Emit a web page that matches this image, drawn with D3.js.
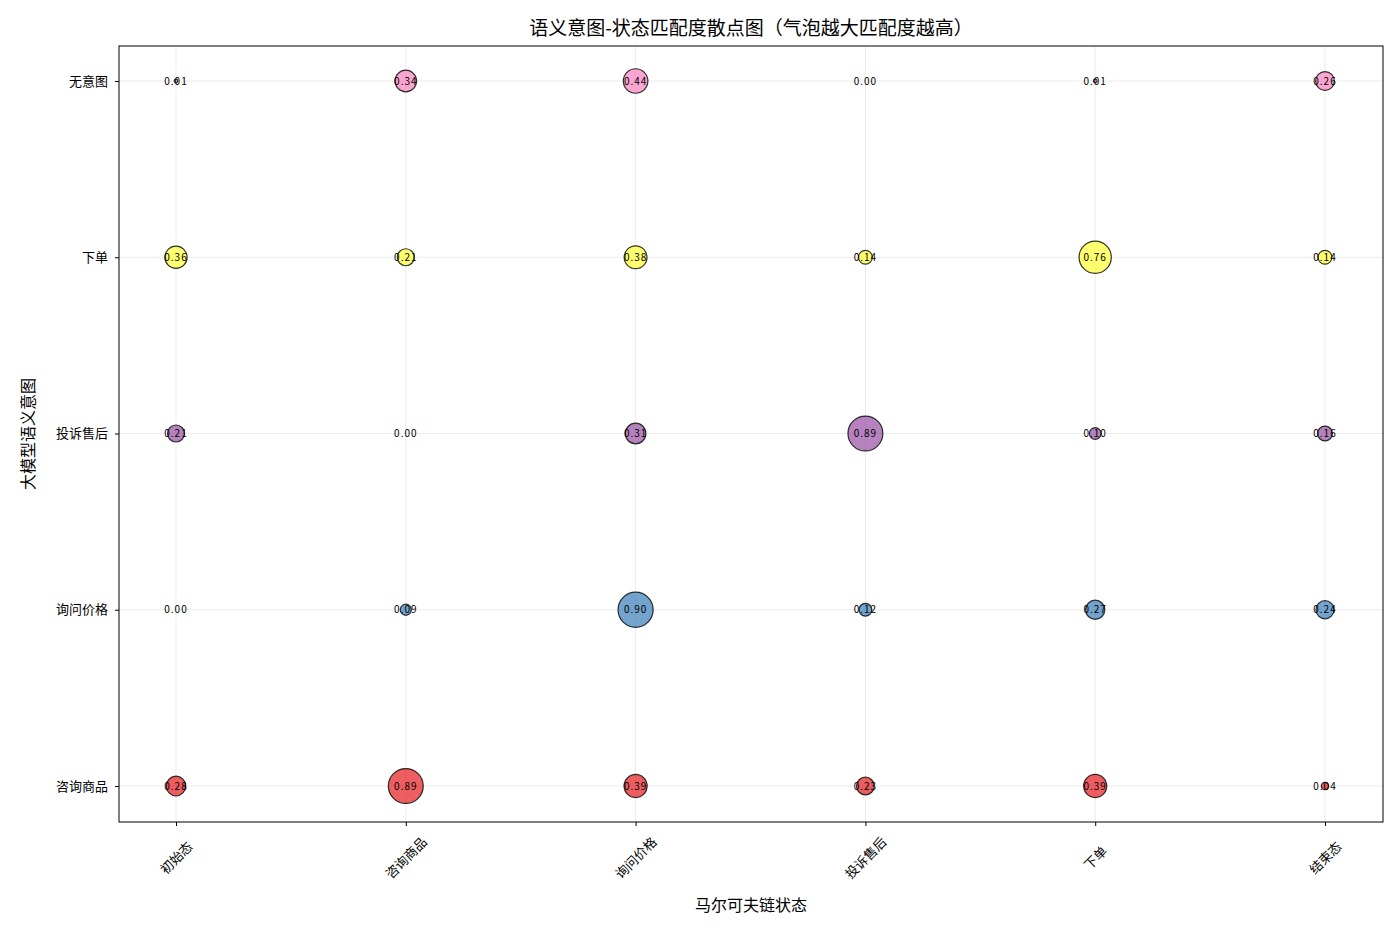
<!DOCTYPE html>
<html><head><meta charset="utf-8">
<script src="https://cdn.jsdelivr.net/npm/d3@7"></script>
<style>body{margin:0;background:#fff;font-family:"Noto Sans CJK SC",sans-serif}</style>
</head><body><div id="chart"></div>
<script>
const states = ["初始态", "咨询商品", "询问价格", "投诉售后", "下单", "结束态"];
const intents = ["咨询商品", "询问价格", "投诉售后", "下单", "无意图"];
const colors = ["#e41a1c", "#377eb8", "#984ea3", "#ffff33", "#f781bf"];
// rows: intents, cols: states
const values = [
    [0.28, 0.89, 0.39, 0.23, 0.39, 0.04],
    [0.00, 0.09, 0.90, 0.12, 0.27, 0.24],
    [0.21, 0.00, 0.31, 0.89, 0.10, 0.16],
    [0.36, 0.21, 0.38, 0.14, 0.76, 0.14],
    [0.01, 0.34, 0.44, 0.00, 0.01, 0.26]
];

const W = 1400, H = 933;
const m = { left: 119, right: 17, top: 46, bottom: 111 };
const svg = d3.select("#chart").append("svg").attr("width", W).attr("height", H);

const x = d3.scalePoint().domain(states).range([m.left + 57, W - m.right - 58]);
const y = d3.scalePoint().domain(intents).range([H - m.bottom - 36, m.top + 35]);
const r = d3.scaleSqrt().domain([0, 1]).range([0, 18.5]);

// grid
svg.append("g").selectAll("line").data(states).join("line")
    .attr("x1", d => x(d)).attr("x2", d => x(d)).attr("y1", m.top).attr("y2", H - m.bottom)
    .attr("stroke", "#ddd").attr("stroke-opacity", 0.6);
svg.append("g").selectAll("line").data(intents).join("line")
    .attr("y1", d => y(d)).attr("y2", d => y(d)).attr("x1", m.left).attr("x2", W - m.right)
    .attr("stroke", "#ddd").attr("stroke-opacity", 0.6);

const cells = values.flatMap((row, i) => row.map((v, j) => ({ intent: intents[i], state: states[j], v, c: colors[i] })));

svg.append("g").selectAll("circle").data(cells).join("circle")
    .attr("cx", d => x(d.state)).attr("cy", d => y(d.intent)).attr("r", d => r(d.v))
    .attr("fill", d => d.c).attr("fill-opacity", 0.7)
    .attr("stroke", "#000").attr("stroke-opacity", 0.8).attr("stroke-width", 1.2);

svg.append("g").selectAll("text").data(cells).join("text")
    .attr("x", d => x(d.state)).attr("y", d => y(d.intent)).attr("dy", "0.35em")
    .attr("text-anchor", "middle").attr("font-size", 10).attr("letter-spacing", 1).attr("fill", "#000")
    .text(d => d.v.toFixed(2));

svg.append("rect").attr("x", m.left).attr("y", m.top)
    .attr("width", W - m.left - m.right).attr("height", H - m.top - m.bottom)
    .attr("fill", "none").attr("stroke", "#000");

const xa = svg.append("g").attr("transform", `translate(0,${H - m.bottom})`)
    .call(d3.axisBottom(x).tickSize(4).tickSizeOuter(0));
xa.select(".domain").remove();
xa.selectAll("text").attr("font-size", 13).attr("font-family", "Noto Sans CJK SC")
    .attr("text-anchor", "middle").attr("y", 0).attr("dy", "0.35em")
    .attr("transform", "translate(0,36) rotate(-45)");

const ya = svg.append("g").attr("transform", `translate(${m.left},0)`)
    .call(d3.axisLeft(y).tickSize(4).tickSizeOuter(0));
ya.select(".domain").remove();
ya.selectAll("text").attr("font-size", 13).attr("font-family", "Noto Sans CJK SC").attr("x", -11);

svg.append("text").attr("x", (m.left + W - m.right) / 2).attr("y", 911)
    .attr("text-anchor", "middle").attr("font-size", 16).text("马尔可夫链状态");
svg.append("text").attr("transform", `translate(34,${(m.top + H - m.bottom) / 2}) rotate(-90)`)
    .attr("text-anchor", "middle").attr("font-size", 16).text("大模型语义意图");
svg.append("text").attr("x", (m.left + W - m.right) / 2).attr("y", 35)
    .attr("text-anchor", "middle").attr("font-size", 19).text("语义意图-状态匹配度散点图（气泡越大匹配度越高）");
</script></body></html>
